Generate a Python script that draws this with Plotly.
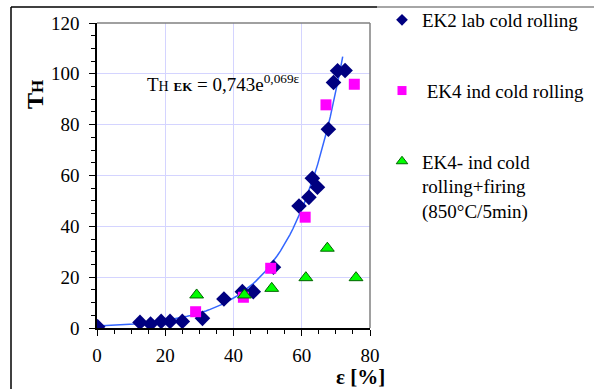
import numpy as np
import plotly.graph_objects as go

# ---- data ----
ek2_x = [0.2, 12.6, 15.7, 18.8, 21.4, 25.0, 30.9, 37.2, 42.6, 45.8, 51.7, 59.2, 62.1, 63.1, 64.6, 67.8, 69.3, 70.5, 72.7]
ek2_y = [0.5, 2.2, 1.6, 2.6, 2.6, 2.6, 3.8, 11.4, 14.3, 14.3, 23.9, 48.0, 51.4, 58.9, 55.4, 78.2, 96.6, 101.2, 101.3]

ek4_x = [28.9, 42.9, 50.9, 61.0, 67.1, 75.4]
ek4_y = [6.4, 12.1, 23.5, 43.6, 87.8, 95.9]

ek4f_x = [29.2, 43.2, 51.2, 61.2, 67.5, 75.9]
ek4f_y = [13.0, 13.0, 15.6, 19.8, 31.4, 19.8]

# trendline coefficients shown on the chart: TH = 0.743 e^(0.069 eps)
TREND_A = 0.743
TREND_B = 0.069
TREND_XMAX = 72.0
trend_x = np.linspace(0, TREND_XMAX, 80)
trend_y = TREND_A * np.exp(TREND_B * trend_x)

names = ["EK2 lab cold rolling", " EK4 ind cold rolling",
         "EK4- ind cold<br>rolling+firing<br>(850°C/5min)"]

FONT = "Liberation Serif"

styles = [
    dict(symbol="diamond", color="#000080", line=dict(width=0)),
    dict(symbol="square", color="#ff00ff", line=dict(width=0)),
    dict(symbol="triangle-up", color="#00ff00", line=dict(width=1, color="#006400")),
]
data_sizes = [12, 11, 12]
legend_sizes = [9, 9, 10]
series = [(ek2_x, ek2_y), (ek4_x, ek4_y), (ek4f_x, ek4f_y)]

fig = go.Figure()
fig.add_trace(go.Scatter(x=trend_x, y=trend_y, mode="lines",
                         line=dict(color="#3366ff", width=1.5),
                         showlegend=False, hoverinfo="skip"))
for i, (sx, sy) in enumerate(series):
    fig.add_trace(go.Scatter(x=sx, y=sy, mode="markers", name=names[i],
                             legendgroup=str(i), showlegend=False,
                             marker=dict(size=data_sizes[i], **styles[i])))
for i in range(3):
    fig.add_trace(go.Scatter(x=[None], y=[None], mode="markers", name=names[i],
                             legendgroup=str(i), showlegend=True,
                             marker=dict(size=legend_sizes[i], **styles[i])))

L, R, T, B = 97, 370, 23, 328
W, H = 594, 389


def px(xp):
    return (xp - L) / (R - L)


def py(yp):
    return (B - yp) / (B - T)


shapes = [
    dict(type="line", xref="paper", yref="paper", x0=0, x1=1, y0=1, y1=1,
         line=dict(color="#808080", width=1.5)),
    dict(type="line", xref="paper", yref="paper", x0=1, x1=1, y0=0, y1=1,
         line=dict(color="#808080", width=1.5)),
    dict(type="line", xref="paper", yref="paper", x0=px(11), x1=px(377), y0=py(7), y1=py(7),
         line=dict(color="#000000", width=1.5)),
    dict(type="line", xref="paper", yref="paper", x0=px(377), x1=px(594), y0=py(7), y1=py(7),
         line=dict(color="#888888", width=1.5)),
    dict(type="line", xref="paper", yref="paper", x0=px(11), x1=px(11), y0=py(7), y1=py(389),
         line=dict(color="#000000", width=1.5)),
]

annotations = [
    dict(xref="paper", yref="paper", x=px(145), y=py(83), showarrow=False,
         xanchor="left", yanchor="middle",
         text="T<span style='font-size:14px'>H</span> <b><span style='font-size:13px'>EK</span></b>"
              " = 0,743e<sup>0,069ε</sup>",
         font=dict(family=FONT, size=19, color="black")),
    dict(xref="paper", yref="paper", x=px(387), y=py(377), showarrow=False,
         xanchor="right", yanchor="middle", text="<b>ε [%]</b>",
         font=dict(family=FONT, size=21, color="black")),
    dict(xref="paper", yref="paper", x=px(35), y=py(95), showarrow=False,
         xanchor="center", yanchor="middle",
         textangle=-90,
         text="<b>T<span style='font-size:17px'>H</span></b>",
         font=dict(family=FONT, size=24, color="black")),
]

axis_common = dict(
    showline=True, linecolor="black", linewidth=1.5,
    ticks="outside", ticklen=6, tickcolor="black", tickwidth=1,
    showgrid=True, gridcolor="#d4d4ff", gridwidth=1,
    zeroline=False,
    tickfont=dict(family=FONT, size=19, color="black"),
    minor=dict(dtick=5, ticks="outside", ticklen=4, tickcolor="black", showgrid=False),
)

fig.update_layout(
    width=W, height=H,
    font=dict(family=FONT, size=19, color="black"),
    margin=dict(l=L, r=W - R, t=T, b=H - B, autoexpand=False),
    paper_bgcolor="white", plot_bgcolor="white",
    xaxis=dict(range=[0, 80], dtick=20, ticklabelstandoff=3, automargin=False, **axis_common),
    yaxis=dict(range=[0, 120], dtick=20, ticklabelstandoff=6, automargin=False, **axis_common),
    shapes=shapes,
    annotations=annotations,
    legend=dict(x=px(382), y=py(1), xanchor="left", yanchor="top",
                font=dict(family=FONT, size=19, color="black"),
                tracegroupgap=43, valign="top", bgcolor="rgba(0,0,0,0)",
                maxheight=380, itemwidth=30),
    showlegend=True,
)

fig.write_html("out.html")
